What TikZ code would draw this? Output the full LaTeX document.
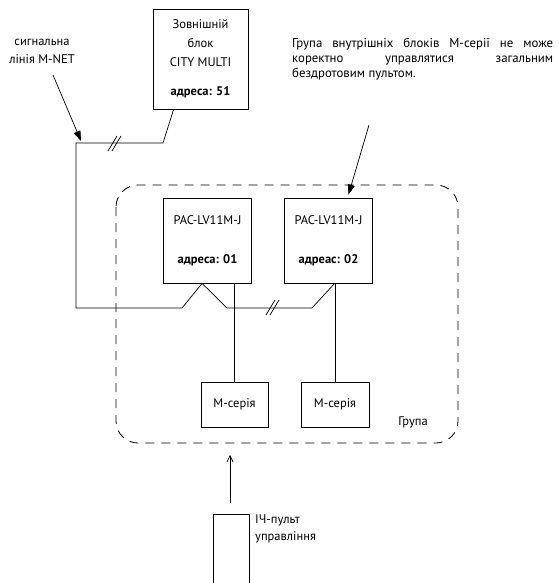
\documentclass[tikz,border=0pt]{standalone}
\usepackage{fontspec}
\setmainfont{PT Sans}
\usetikzlibrary{arrows.meta,calc}
\begin{document}
\begin{tikzpicture}[x=1pt,y=-1pt,
  box/.style={draw, line width=0.8pt, inner sep=0pt, align=center},
  wire/.style={line width=0.7pt},
  ptr/.style={line width=0.7pt, -{Triangle[length=10pt,width=7pt]}},
  txt/.style={font=\fontsize{12.5}{18}\selectfont, inner sep=0pt},
  slash/.style={line width=0.7pt}]
\useasboundingbox (0,0) rectangle (558,583);
% group frame
\draw[line width=0.8pt, dash pattern=on 9pt off 7pt, rounded corners=22pt] (116,185) rectangle (458,443);
\node[txt] (grp) at (413,422) {Група};
% outdoor unit
\node[box, minimum width=95pt, minimum height=100pt, font=\fontsize{12.5}{19}\selectfont] (out) at (200.5,59)
  {Зовнішній\\блок\\CITY MULTI\\[10pt]\textbf{адреса: 51}};
% indoor units
\node[box, minimum width=88pt, minimum height=85pt, font=\fontsize{12.5}{39}\selectfont] (in1) at (207.5,240.5)
  {PAC-LV11M-J\\\textbf{адреса: 01}};
\node[box, minimum width=88pt, minimum height=85pt, font=\fontsize{12.5}{39}\selectfont] (in2) at (328.5,240.5)
  {PAC-LV11M-J\\\textbf{адреас: 02}};
% M-series
\node[box, minimum width=67pt, minimum height=45pt, font=\fontsize{12.5}{14}\selectfont] (m1) at (234.5,404.5) {M-серія};
\node[box, minimum width=68pt, minimum height=45pt, font=\fontsize{12.5}{14}\selectfont] (m2) at (335,404.5) {M-серія};
\draw[wire] (m1.north) -- (m1.north |- in1.south);
\draw[wire] (m2.north) -- (m2.north |- in2.south);
% M-NET signal line
\coordinate (c1) at ($(out.south west)+(21,0)$);
\coordinate (c2) at ($(in1.south west)+(39,0)$);
\coordinate (c3) at ($(in2.south west)+(50.5,0)$);
\draw[wire] (c1) -- (163,143) -- (76,143) -- (76,308) -- (182,308) -- (c2) -- (227,308) -- (312,308) -- (c3);
\draw[slash] (108,151) -- (117,136) (112,151) -- (121,136);
\draw[slash] (266,315) -- (275,300) (270,315) -- (279,300);
% labels and pointers
\node[txt, align=center] (sig) at (42,51) {сигнальна\\лінія M-NET};
\coordinate (sigtip) at (81,141);
\draw[ptr] (53,75) -- (sigtip);
\node[txt, anchor=north west, text width=261pt, align=justify, font=\fontsize{12.8}{15}\selectfont] (note) at (292,38)
  {\noindent Група внутрішніх блоків М-серії не може\linebreak коректно управлятися загальним\linebreak бездротовим пультом.};
\draw[ptr] (369,125) -- ($(in2.north)+(20,-3)$);
% remote
\draw[line width=0.8pt] (213,590) -- (213,514) coordinate (rtl) -- (249,514) -- (249,590);
\coordinate (rtop) at (230,503);
\draw[line width=0.7pt, -{Straight Barb[length=6pt,width=6pt]}] (rtop) -- (230,455);
\node[txt, anchor=north west, align=left, font=\fontsize{12.5}{17}\selectfont] (rem) at (255,515) {ІЧ-пульт\\управління};
\end{tikzpicture}
\end{document}
